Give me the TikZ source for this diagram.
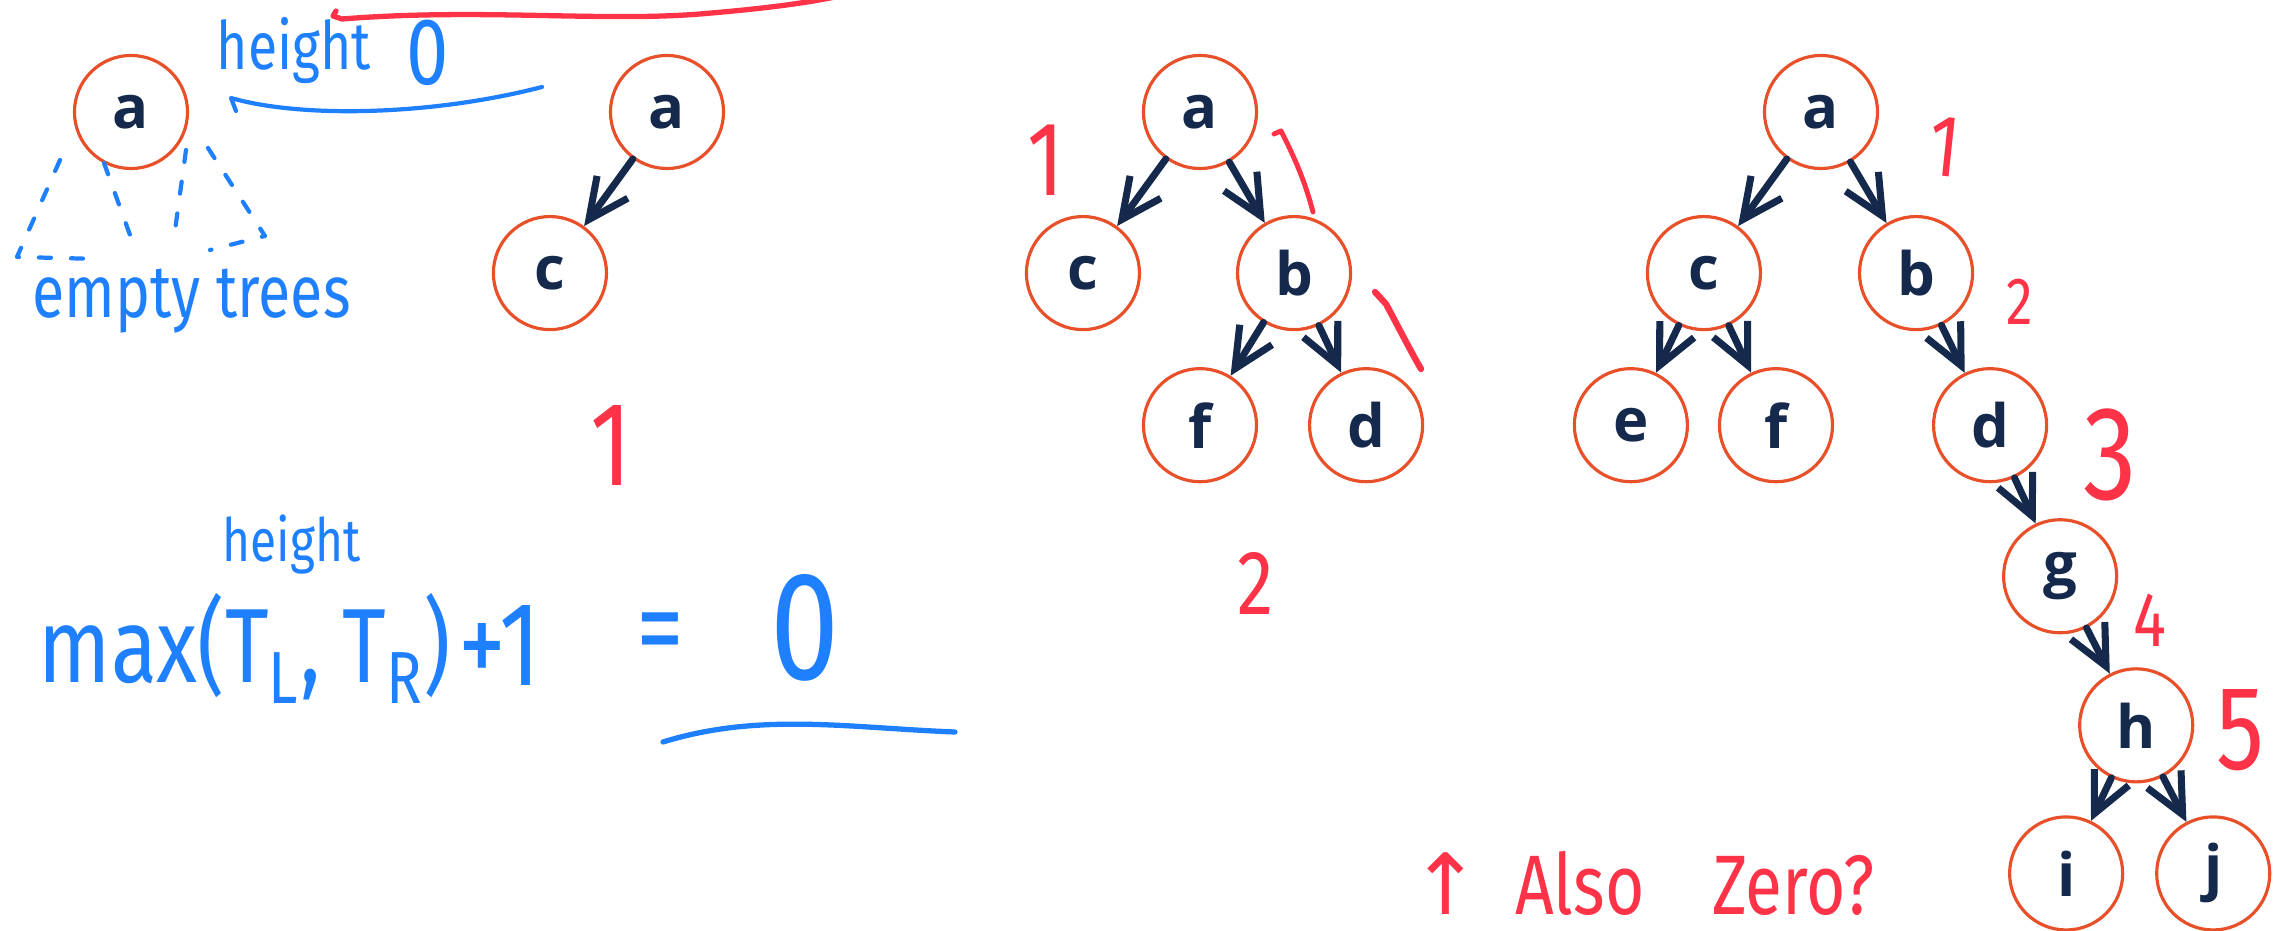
\documentclass[tikz,border=0pt]{standalone}
\usepackage{fontspec}
\setmainfont{Open Sans}
\newfontfamily\handfont{Fira Sans}[FakeStretch=0.8]
\newfontfamily\symfont{DejaVu Sans}
\usepackage{tikz}
\usetikzlibrary{bayesnet, positioning, arrows.meta}

\definecolor{ringorange}{HTML}{E8502A}
\definecolor{inknavy}{HTML}{14294B}
\definecolor{penblue}{HTML}{1E80FF}
\definecolor{penred}{HTML}{FF3347}

\tikzset{
  treenode/.style={latent, draw=ringorange, line width=0.9pt, minimum size=1.13cm,
    inner sep=0pt, text=inknavy, font=\bfseries\fontsize{17}{17}\selectfont},
  treeedge/.style={>={Straight Barb[length=4mm, width=3.8mm]}, draw=inknavy,
    line width=2pt, line cap=round, line join=round},
  blueink/.style={draw=penblue, line width=1.2pt, line cap=round, line join=round},
  redink/.style={draw=penred, line width=1.4pt, line cap=round, line join=round},
  bluenote/.style={text=penblue, inner sep=0pt, font=\handfont\fontsize{#1}{#1}\selectfont},
  rednote/.style={text=penred, inner sep=0pt, font=\handfont\fontsize{#1}{#1}\selectfont},
}

\begin{document}
\begin{tikzpicture}[x=0.01cm, y=-0.01cm, on grid]
  \useasboundingbox (0,0) rectangle (2290,931);

  % Define nodes
  \node[treenode] (a1) at (131,112) {a};

  \node[treenode] (a2) at (667,112) {a};
  \node[treenode, below left=1.61cm and 1.17cm of a2] (c2) {c};

  \node[treenode] (a3) at (1200,112) {a};
  \node[treenode, below left=1.61cm and 1.17cm of a3]  (c3) {c};
  \node[treenode, below right=1.61cm and 0.94cm of a3] (b3) {b};
  \node[treenode, below left=1.52cm and 0.94cm of b3]  (f3) {f};
  \node[treenode, below right=1.52cm and 0.72cm of b3] (d3) {d};

  \node[treenode] (a4) at (1821,112) {a};
  \node[treenode, below left=1.61cm and 1.17cm of a4]  (c4) {c};
  \node[treenode, below right=1.61cm and 0.95cm of a4] (b4) {b};
  \node[treenode, below left=1.52cm and 0.73cm of c4]  (e4) {e};
  \node[treenode, below right=1.52cm and 0.72cm of c4] (f4) {f};
  \node[treenode, below right=1.52cm and 0.74cm of b4] (d4) {d};
  \node[treenode, below right=1.51cm and 0.70cm of d4] (g4) {g};
  \node[treenode, below right=1.49cm and 0.76cm of g4] (h4) {h};
  \node[treenode, below left=1.48cm and 0.70cm of h4]  (i4) {i};
  \node[treenode, below right=1.48cm and 0.77cm of h4] (j4) {j};

  % Connect the nodes
  \edge[treeedge] {a2} {c2} ;
  \edge[treeedge] {a3} {c3,b3} ;
  \edge[treeedge] {b3} {f3,d3} ;
  \edge[treeedge] {a4} {c4,b4} ;
  \edge[treeedge] {c4} {e4,f4} ;
  \edge[treeedge] {b4} {d4} ;
  \edge[treeedge] {d4} {g4} ;
  \edge[treeedge] {g4} {h4} ;
  \edge[treeedge] {h4} {i4,j4} ;

  % blue notes
  \node[bluenote=19, anchor=base west] (hgt0) at (216,70) {height};
  \node[bluenote=27] (zero0) at (428,53) {0};
  \coordinate (backfrom) at (542,87);
  \coordinate (backto) at (231,98);
  \draw[blueink] (backfrom) .. controls (430,116) and (300,118) .. (backto) -- ++(5,13);

  \draw[blueink, dash pattern=on 0.12cm off 0.2cm] (60,160) -- (17,257) -- (100,259);
  \draw[blueink, dash pattern=on 0.12cm off 0.2cm] (104,163) -- (130,235);
  \draw[blueink, dash pattern=on 0.12cm off 0.2cm] (186,150) -- (173,245);
  \draw[blueink, dash pattern=on 0.12cm off 0.2cm] (208,148) -- (265,236) -- (210,250);
  \node[bluenote=21, anchor=base west] (empty) at (32,318) {empty trees};

  \node[bluenote=17, anchor=base west] (hgt) at (222,562) {height};
  \node[bluenote=30, anchor=base west] (fmax) at (38,683) {max(T\textsubscript{L}, T\textsubscript{R})};
  \node[bluenote=34, anchor=base west] (plus) at (458,686) {+1};
  \node[bluenote=34] (eq) at (660,641) {=};
  \node[bluenote=44] (zero) at (805,628) {0};
  \draw[blueink, line width=1.5pt] (663,742) .. controls (760,712) and (850,728) .. (955,732);

  % red notes
  \draw[redink, line width=1.5pt] (336,11) -- (333,16) -- (342,19)
    .. controls (480,8) and (600,22) .. (700,14) .. controls (760,9) and (800,4) .. (835,-3);
  \node[rednote=34] (one2) at (611,446) {1};
  \node[rednote=30] (one3c) at (1046,160) {1};
  \draw[redink] (1274,134) -- (1281,131) .. controls (1296,160) and (1306,185) .. (1313,212);
  \draw[redink, line width=1.8pt] (1375,292) -- (1386,304) .. controls (1400,330) and (1410,350) .. (1421,369);
  \node[rednote=26] (two3) at (1256,583) {2};
  \node[rednote=25, rotate=-6] (one4) at (1945,147) {1};
  \node[rednote=19] (two4) at (2020,302) {2};
  \node[rednote=38] (three4) at (2110,455) {3};
  \node[rednote=22] (four4) at (2150,620) {4};
  \node[rednote=34] (five4) at (2240,730) {5};
  \node[rednote=24, anchor=base west] (also) at (1410,915)
    {{\symfont ↑}\hspace{0.4em}Also\hspace{0.8em}Zero?};

\end{tikzpicture}
\end{document}
